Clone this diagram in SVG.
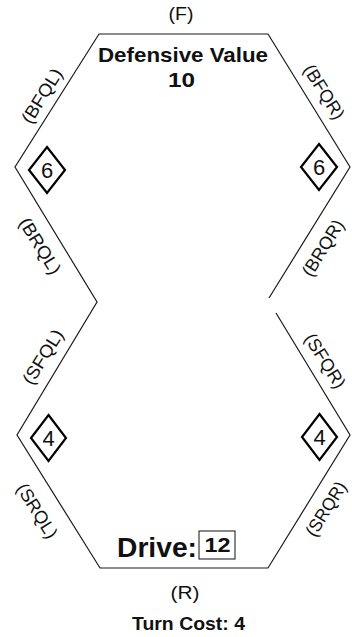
<svg xmlns="http://www.w3.org/2000/svg" width="352" height="637" viewBox="0 0 352 637">
<style>
.edge{fill:none;stroke:#1a1a1a;stroke-width:1.2;stroke-linejoin:miter}
.lbl{font-family:"Liberation Sans",Arial,sans-serif;font-size:18px;fill:#111;text-anchor:middle}
.bold{font-family:"Liberation Sans",Arial,sans-serif;font-weight:bold;fill:#111}
.dia{fill:#fff;stroke:#000;stroke-width:2.2;stroke-linejoin:miter}
.dig{font-family:"Liberation Sans",Arial,sans-serif;font-size:22px;fill:#111;text-anchor:middle}
</style>
<rect width="352" height="637" fill="#fff"/>
<g id="outline">
<polyline class="edge" points="269,298 350,167 268,34 99,34 15,167 97,302 17,435 100,568 268,568 350,435 276,313"/>
</g>
<g id="facing-labels">
<text class="lbl" x="181" y="20" textLength="25" lengthAdjust="spacingAndGlyphs">(F)</text>
<text class="lbl" x="185" y="599" textLength="29" lengthAdjust="spacingAndGlyphs">(R)</text>
<text class="lbl" transform="translate(42,96) rotate(-58)" y="6" textLength="61" lengthAdjust="spacingAndGlyphs">(BFQL)</text>
<text class="lbl" transform="translate(324,92) rotate(58)" y="6" textLength="61" lengthAdjust="spacingAndGlyphs">(BFQR)</text>
<text class="lbl" transform="translate(40,246) rotate(58)" y="6" textLength="63" lengthAdjust="spacingAndGlyphs">(BRQL)</text>
<text class="lbl" transform="translate(323,248) rotate(-58)" y="6" textLength="63" lengthAdjust="spacingAndGlyphs">(BRQR)</text>
<text class="lbl" transform="translate(43,357) rotate(-58)" y="6" textLength="61" lengthAdjust="spacingAndGlyphs">(SFQL)</text>
<text class="lbl" transform="translate(325,361) rotate(58)" y="6" textLength="61" lengthAdjust="spacingAndGlyphs">(SFQR)</text>
<text class="lbl" transform="translate(37,511) rotate(58)" y="6" textLength="61" lengthAdjust="spacingAndGlyphs">(SRQL)</text>
<text class="lbl" transform="translate(326,509) rotate(-58)" y="6" textLength="61" lengthAdjust="spacingAndGlyphs">(SRQR)</text>
</g>
<g id="defensive-value">
<text class="bold" x="183" y="62" font-size="21" text-anchor="middle" textLength="170" lengthAdjust="spacingAndGlyphs">Defensive Value</text>
<text class="bold" x="181.5" y="87" font-size="20" text-anchor="middle" textLength="27" lengthAdjust="spacingAndGlyphs">10</text>
</g>
<g id="diamond-bl">
<polygon class="dia" points="47,147 65,170 47,193 29,170"/>
<text class="dig" x="47" y="178">6</text>
</g>
<g id="diamond-br">
<polygon class="dia" points="319,144 337,167 319,190 301,167"/>
<text class="dig" x="319" y="175">6</text>
</g>
<g id="diamond-sl">
<polygon class="dia" points="48.5,415 66,438 48.5,461 31,438"/>
<text class="dig" x="48.5" y="446">4</text>
</g>
<g id="diamond-sr">
<polygon class="dia" points="319.5,414 337,437 319.5,460 302,437"/>
<text class="dig" x="319.5" y="445">4</text>
</g>
<g id="drive">
<text class="bold" x="117" y="557" font-size="27" textLength="80" lengthAdjust="spacingAndGlyphs">Drive:</text>
<rect x="199" y="531" width="36" height="28" fill="#fff" stroke="#111" stroke-width="1"/>
<text class="bold" x="217.5" y="552" font-size="20" text-anchor="middle" textLength="26" lengthAdjust="spacingAndGlyphs">12</text>
</g>
<g id="turn-cost">
<text class="bold" x="188.5" y="630" font-size="18" text-anchor="middle" textLength="113" lengthAdjust="spacingAndGlyphs">Turn Cost: 4</text>
</g>
</svg>
